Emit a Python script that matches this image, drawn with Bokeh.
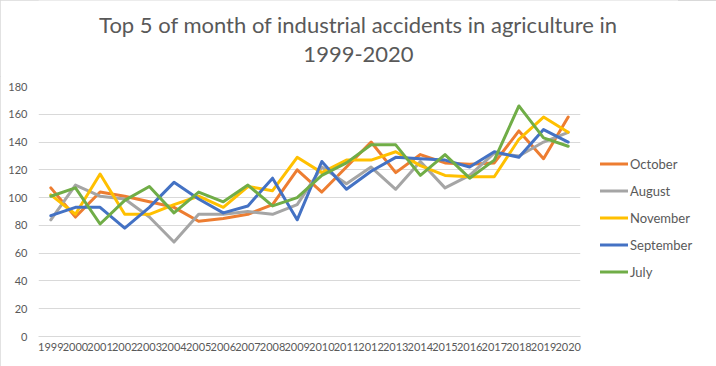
from bokeh.plotting import figure
from bokeh.layouts import column
from bokeh.models import Range1d, FactorRange, SingleIntervalTicker, Legend, LegendItem
from bokeh.core.properties import value
from bokeh.embed import file_html
from bokeh.resources import INLINE

years = [str(y) for y in range(1999, 2021)]
october = [107, 86, 104, 101, 97, 93, 83, 85, 88, 95, 120, 104, 122, 140, 118, 131, 125, 124, 125, 148, 128, 158]
august = [84, 109, 101, 99, 86, 68, 88, 88, 90, 88, 95, 122, 110, 122, 106, 126, 107, 116, 132, 130, 140, 147]
november = [102, 88, 117, 88, 88, 95, 101, 93, 108, 105, 129, 118, 127, 127, 133, 123, 116, 115, 115, 142, 158, 147]
september = [87, 93, 93, 78, 93, 111, 99, 89, 94, 114, 84, 126, 106, 119, 129, 128, 127, 122, 133, 129, 149, 140]
july = [101, 107, 81, 98, 108, 89, 104, 97, 109, 94, 100, 116, 125, 138, 138, 116, 131, 114, 127, 166, 143, 137]

series_names = ["October", "August", "November", "September", "July"]
series_values = [october, august, november, september, july]
series_colors = ["#ED7D31", "#A5A5A5", "#FFC000", "#4472C4", "#70AD47"]

title_lines = ["Top 5 of month of industrial accidents in agriculture in", "1999-2020"]

FONT = "Lato"
TXT = "#595959"
W = 716
LEFT = 38          # width of the main chart's left panel (frames are aligned in the column)
TOP_H = 76         # height of the title strip

# ---- title strip (x data = page pixels) ----
pt = figure(frame_width=W - LEFT, frame_height=TOP_H, x_range=Range1d(LEFT, W), y_range=Range1d(0, TOP_H),
            x_axis_location=None, y_axis_location=None, output_backend="svg",
            toolbar_location=None, min_border=0)
pt.outline_line_color = None
pt.grid.visible = False
pt.border_fill_color = "white"
pt.background_fill_color = "white"
pt.text(x=[W / 2, W / 2], y=[TOP_H - 24, TOP_H - 54], text=title_lines,
        text_align="center", text_baseline="alphabetic", text_font=value(FONT),
        text_font_size="22px", text_color=TXT)

# ---- main chart ----
p = figure(frame_width=542, frame_height=250, x_range=FactorRange(*years), y_range=Range1d(0, 180),
           output_backend="svg", toolbar_location=None,
           min_border_left=LEFT, min_border_right=136, min_border_top=10, min_border_bottom=30)
p.outline_line_color = None
p.background_fill_color = "white"
p.border_fill_color = "white"

p.xgrid.grid_line_color = None
p.ygrid.grid_line_color = "#d9d9d9"
p.ygrid.grid_line_width = 1

p.yaxis.ticker = SingleIntervalTicker(interval=20)
p.yaxis.axis_line_color = None
p.yaxis.major_tick_line_color = None
p.yaxis.minor_tick_line_color = None
p.yaxis.major_tick_out = 0
p.yaxis.minor_tick_out = 0
p.yaxis.major_label_standoff = 11
p.yaxis.major_label_text_font = FONT
p.yaxis.major_label_text_font_size = "11px"
p.yaxis.major_label_text_color = TXT

p.xaxis.axis_line_color = "#d9d9d9"
p.xaxis.major_tick_line_color = None
p.xaxis.minor_tick_line_color = None
p.xaxis.major_tick_out = 0
p.xaxis.minor_tick_out = 0
p.xaxis.major_label_standoff = 6
p.xaxis.major_label_text_font = FONT
p.xaxis.major_label_text_font_size = "11px"
p.xaxis.major_label_text_color = TXT

items = []
for name, vals, col in zip(series_names, series_values, series_colors):
    r = p.line(years, vals, line_color=col, line_width=3, line_join="round", line_cap="round")
    items.append(LegendItem(label=name, renderers=[r]))

legend = Legend(items=items, location="center_left", padding=0, spacing=11, margin=20,
                glyph_width=28, glyph_height=14, label_height=14, label_standoff=2,
                label_text_font=FONT, label_text_font_size="13px", label_text_color=TXT,
                title=" ", title_text_font_size="8px", title_standoff=4,
                border_line_color=None, background_fill_alpha=0)
p.add_layout(legend, "right")

layout = column(pt, p, spacing=0,
                styles={"outline": "1px solid #d9d9d9", "outline-offset": "-1px"})

open("out.html", "w").write(file_html(layout, INLINE))
